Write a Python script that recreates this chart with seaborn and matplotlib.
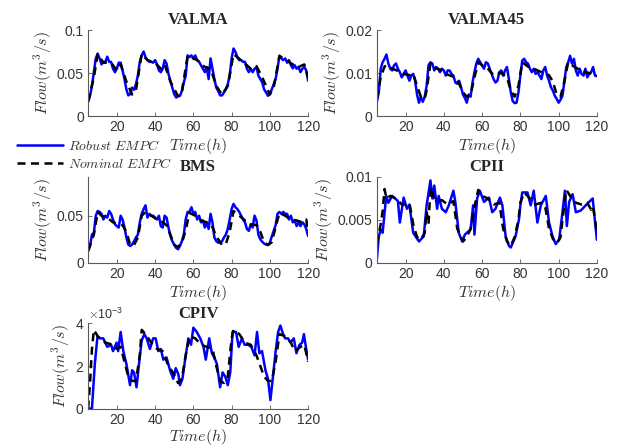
import numpy as np
import pandas as pd
import matplotlib
matplotlib.use("Agg")
import matplotlib.pyplot as plt
import matplotlib.ticker as mticker
import seaborn as sns

# ---- data (flow in m^3/s, time in hours) ----
# hourly robust series start at t = 5
valma_robust = [
    0.0165, 0.0235, 0.035, 0.051, 0.067, 0.0725, 0.067, 0.060, 0.063, 0.063,
    0.069, 0.063, 0.063, 0.055, 0.051, 0.055, 0.062, 0.062, 0.053, 0.043,
    0.031, 0.024, 0.0255, 0.033, 0.0305, 0.037, 0.047, 0.063, 0.0705, 0.075,
    0.0685, 0.065, 0.063, 0.063, 0.062, 0.065, 0.060, 0.053, 0.051, 0.055,
    0.065, 0.061, 0.049, 0.041, 0.033, 0.0255, 0.0215, 0.023, 0.0235, 0.029,
    0.039, 0.047, 0.0705, 0.0685, 0.0705, 0.067, 0.0705, 0.065, 0.063, 0.059,
    0.055, 0.051, 0.057, 0.043, 0.067, 0.055, 0.043, 0.033, 0.029, 0.024,
    0.024, 0.0275, 0.031, 0.037, 0.047, 0.067, 0.0785, 0.0745, 0.0685, 0.065,
    0.065, 0.063, 0.063, 0.055, 0.051, 0.055, 0.051, 0.055, 0.057, 0.047,
    0.043, 0.039, 0.031, 0.0275, 0.0235, 0.0255, 0.031, 0.037, 0.043, 0.055,
    0.070, 0.067, 0.065, 0.067, 0.062, 0.065, 0.059, 0.0555, 0.059, 0.055,
    0.057, 0.051, 0.055, 0.057, 0.053, 0.041,
]
valma_nom_t = [5, 8, 10, 13, 17, 20, 22, 25, 28, 30, 33, 36, 40, 43, 45, 48, 52, 54, 57, 62,
               66, 69, 72, 75, 78, 81, 86, 90, 93, 96, 100, 102, 105, 107, 112, 115, 118, 120]
valma_nom = [0.017, 0.045, 0.072, 0.062, 0.062, 0.053, 0.060, 0.040, 0.025, 0.030,
             0.072, 0.065, 0.062, 0.055, 0.060, 0.040, 0.023, 0.028, 0.070, 0.065,
             0.057, 0.055, 0.035, 0.025, 0.035, 0.072, 0.063, 0.055, 0.058, 0.045,
             0.025, 0.033, 0.070, 0.067, 0.060, 0.057, 0.060, 0.045]

valma45_robust = [
    0.0033, 0.0055, 0.011, 0.0125, 0.0133, 0.0143, 0.0122, 0.011, 0.0106, 0.0118,
    0.0122, 0.011, 0.0102, 0.009, 0.0098, 0.0106, 0.0094, 0.0082, 0.0094, 0.0098,
    0.0082, 0.005, 0.0031, 0.0045, 0.0033, 0.0045, 0.007, 0.0118, 0.0125, 0.0122,
    0.0106, 0.0114, 0.011, 0.0102, 0.011, 0.0106, 0.0094, 0.0106, 0.0106, 0.0098,
    0.0094, 0.0078, 0.0075, 0.0082, 0.0067, 0.005, 0.0042, 0.0031, 0.005, 0.0045,
    0.0078, 0.0102, 0.0122, 0.0133, 0.0125, 0.0118, 0.011, 0.0125, 0.0122, 0.011,
    0.0098, 0.0086, 0.0078, 0.0082, 0.0102, 0.0106, 0.0094, 0.0106, 0.0114, 0.0086,
    0.0055, 0.0035, 0.003, 0.0031, 0.0055, 0.0094, 0.0129, 0.0133, 0.0125, 0.0122,
    0.011, 0.0102, 0.011, 0.0098, 0.0102, 0.0094, 0.0086, 0.0106, 0.0114, 0.0094,
    0.0082, 0.0067, 0.0059, 0.0047, 0.004, 0.0031, 0.0038, 0.0047, 0.008, 0.0114,
    0.0125, 0.014, 0.0122, 0.0133, 0.0106, 0.0094, 0.011, 0.0098, 0.0094, 0.011,
    0.009, 0.0098, 0.0102, 0.0114, 0.0094, 0.0093,
]
valma45_nom_t = [5, 7, 9, 10, 13, 16, 19, 22, 24, 26, 28, 30, 31, 33, 35, 38, 41, 44, 46, 48,
                 50, 52, 54, 56, 58, 60, 63, 66, 68, 70, 73, 75, 77, 79, 81, 84, 88, 92, 95, 97,
                 99, 101, 103, 105, 108, 112, 116, 118, 120]
valma45_nom = [0.004, 0.009, 0.0115, 0.0118, 0.011, 0.0105, 0.0098, 0.0095, 0.0098, 0.007,
               0.0045, 0.004, 0.006, 0.0122, 0.0112, 0.0108, 0.0098, 0.0093, 0.009, 0.0075,
               0.0055, 0.0045, 0.005, 0.009, 0.0125, 0.0118, 0.011, 0.0095, 0.0098, 0.010,
               0.009, 0.006, 0.0045, 0.007, 0.0125, 0.0115, 0.0108, 0.010, 0.0095, 0.008,
               0.005, 0.0045, 0.008, 0.0125, 0.0115, 0.0105, 0.010, 0.0095, 0.0093]

bms_robust = [
    0.0125, 0.018, 0.030, 0.032, 0.050, 0.055, 0.054, 0.052, 0.046, 0.050,
    0.048, 0.055, 0.052, 0.046, 0.041, 0.039, 0.0375, 0.050, 0.046, 0.0375,
    0.027, 0.0195, 0.018, 0.0195, 0.023, 0.027, 0.030, 0.043, 0.052, 0.057,
    0.061, 0.048, 0.052, 0.050, 0.050, 0.048, 0.046, 0.050, 0.039, 0.0375,
    0.050, 0.048, 0.0375, 0.0285, 0.023, 0.0195, 0.016, 0.0145, 0.018, 0.023,
    0.030, 0.046, 0.054, 0.054, 0.059, 0.052, 0.054, 0.046, 0.050, 0.043,
    0.045, 0.0375, 0.043, 0.036, 0.052, 0.043, 0.027, 0.023, 0.0215, 0.0215,
    0.023, 0.027, 0.030, 0.036, 0.046, 0.057, 0.0625, 0.059, 0.057, 0.054,
    0.050, 0.046, 0.043, 0.036, 0.034, 0.041, 0.0375, 0.050, 0.045, 0.030,
    0.025, 0.0225, 0.0205, 0.0195, 0.019, 0.0215, 0.028, 0.034, 0.040, 0.052,
    0.054, 0.052, 0.054, 0.052, 0.052, 0.046, 0.050, 0.043, 0.045, 0.039,
    0.043, 0.039, 0.043, 0.041, 0.036, 0.0285,
]
bms_nom_t = [5, 8, 10, 12, 15, 18, 21, 23, 25, 27, 29, 31, 33, 35, 38, 41, 44, 46, 48, 50,
             52, 54, 56, 58, 61, 64, 67, 70, 72, 75, 77, 79, 81, 84, 87, 90, 93, 95, 97, 99,
             101, 103, 105, 108, 111, 114, 117, 119, 120]
bms_nom = [0.013, 0.030, 0.054, 0.050, 0.048, 0.043, 0.041, 0.040, 0.033, 0.019,
           0.019, 0.027, 0.050, 0.054, 0.050, 0.046, 0.043, 0.040, 0.030, 0.019,
           0.017, 0.021, 0.035, 0.053, 0.050, 0.045, 0.043, 0.038, 0.028, 0.019,
           0.020, 0.033, 0.055, 0.050, 0.045, 0.041, 0.040, 0.033, 0.022, 0.019,
           0.022, 0.038, 0.053, 0.050, 0.046, 0.045, 0.043, 0.046, 0.035]

cpii_rob_t = [5, 6, 7, 8, 9.9, 11, 13, 16, 17, 19, 20.7, 22, 24, 27, 29.5, 31, 33, 34, 35, 36.5,
              37.3, 39, 41, 42.6, 45, 46, 47.8, 49.6, 51, 54, 55.3, 56, 57.4, 58.8, 61, 63.6, 65.3, 67, 69.3, 70.6,
              72.3, 74, 75, 77.5, 79.3, 80, 81, 83.7, 85.4, 87, 88.9, 90.7, 93.3, 95, 96.8, 98.5, 100.3, 102, 103.3, 104.3,
              105.5, 107.3, 109, 111.6, 115, 117.8, 120]
cpii_robust = [0.0004, 0.0031, 0.0039, 0.0035, 0.0078, 0.0070, 0.0078, 0.0072, 0.0047, 0.0076,
               0.0063, 0.0068, 0.0035, 0.0025, 0.0031, 0.0067, 0.0096, 0.0075, 0.009, 0.0063,
               0.0078, 0.0063, 0.0059, 0.0067, 0.0084, 0.0071, 0.0035, 0.0025, 0.0033, 0.0039,
               0.0067, 0.0033, 0.0075, 0.0084, 0.0071, 0.0076, 0.0059, 0.0063, 0.0076, 0.0067,
               0.0031, 0.002, 0.0018, 0.0031, 0.0051, 0.0067, 0.0082, 0.0082, 0.0067, 0.0084,
               0.0047, 0.0067, 0.0078, 0.0047, 0.0031, 0.0022, 0.0027, 0.0059, 0.0084, 0.0043,
               0.0071, 0.008, 0.0059, 0.0061, 0.0069, 0.0075, 0.0027]
cpii_nom_t = [5, 7, 8, 9, 10, 12, 15, 18, 20, 22, 24, 26, 28, 30, 31, 32, 33, 35, 37, 39,
              42, 45, 47, 50, 52, 54, 56, 58, 60, 63, 66, 69, 71, 73, 75, 77, 79, 80, 82, 85,
              88, 91, 93, 95, 97, 99, 101, 102, 104, 106, 109, 112, 115, 117, 118, 120]
cpii_nom = [0.0022, 0.0045, 0.006, 0.0086, 0.0075, 0.0078, 0.0075, 0.0068, 0.0068, 0.0070,
            0.0045, 0.0030, 0.0027, 0.0035, 0.006, 0.0045, 0.0088, 0.0075, 0.0072, 0.0073,
            0.0068, 0.0072, 0.004, 0.0025, 0.003, 0.004, 0.0065, 0.0085, 0.0078, 0.0075,
            0.0068, 0.007, 0.004, 0.0025, 0.002, 0.003, 0.005, 0.007, 0.0082, 0.0075,
            0.0068, 0.0070, 0.0065, 0.004, 0.0028, 0.0023, 0.003, 0.005, 0.0085, 0.0078,
            0.0070, 0.0068, 0.0070, 0.0062, 0.0066, 0.0035]

cpiv_rob_t = [5, 7, 8.5, 9.9, 11, 12.9, 15, 17, 18, 19.9, 20.7, 22, 23.4, 25, 26.9, 28, 29, 30.3, 31.6, 33,
              34.4, 35.6, 37.3, 39, 40.3, 41.7, 43, 44.3, 46, 47.8, 49.5, 50.8, 52.2, 53, 54.3, 55.7, 57.4, 58.8, 60, 61.8,
              63.6, 65.3, 66.5, 68.3, 69.7, 71, 72.3, 74, 75.3, 76.7, 78, 79.3, 80.5, 82.3, 83.7, 85.4, 86.8, 88.6, 90.3, 92,
              93.3, 94.5, 95.9, 97.7, 99, 100.3, 101.5, 102.9, 104.3, 105.5, 106.9, 108, 109.5, 110.8, 112.5, 113.9, 115.5, 116.9, 117.8, 119,
              120]
cpiv_robust = [0.0, 0.0, 0.0021, 0.0034, 0.0033, 0.0033, 0.0029, 0.0030, 0.0027, 0.0031,
               0.0027, 0.0036, 0.0027, 0.0021, 0.0011, 0.0018, 0.0017, 0.0010, 0.0021, 0.0032,
               0.0035, 0.0033, 0.0028, 0.0033, 0.0033, 0.0027, 0.0028, 0.0023, 0.0024, 0.0018,
               0.0014, 0.0019, 0.0016, 0.0011, 0.0014, 0.0023, 0.0033, 0.0030, 0.0038, 0.0036,
               0.0033, 0.0029, 0.0023, 0.0033, 0.0026, 0.0024, 0.0021, 0.0010, 0.0017, 0.0015,
               0.0011, 0.0017, 0.0036, 0.0036, 0.0029, 0.0033, 0.0030, 0.0030, 0.0029, 0.0025,
               0.0036, 0.0026, 0.0027, 0.0018, 0.0014, 0.0004, 0.0014, 0.0026, 0.0036, 0.0039,
               0.0035, 0.0033, 0.0033, 0.0031, 0.0033, 0.0026, 0.0030, 0.0031, 0.0035, 0.0028,
               0.0023]
cpiv_nom_t = [5, 6, 7, 8, 10, 14, 18, 20, 22, 24, 26, 28, 30, 32, 33, 35, 38, 41, 44, 47,
              50, 52, 54, 56, 58, 61, 64, 67, 70, 72, 74, 76, 78, 80, 81, 84, 87, 90, 93, 95,
              97, 99, 101, 103, 105, 108, 111, 113, 116, 118, 120]
cpiv_nom = [0.0, 0.0012, 0.0028, 0.0037, 0.0034, 0.0031, 0.0030, 0.0028, 0.0029, 0.0022,
            0.0015, 0.0013, 0.0013, 0.0025, 0.0037, 0.0035, 0.0031, 0.0028, 0.0027, 0.0020,
            0.0016, 0.0012, 0.0014, 0.0025, 0.0034, 0.0033, 0.0030, 0.0029, 0.0028, 0.0020,
            0.0013, 0.0012, 0.0015, 0.0033, 0.0037, 0.0035, 0.0031, 0.0030, 0.0025, 0.0020,
            0.0015, 0.0013, 0.0013, 0.0022, 0.0035, 0.0034, 0.0031, 0.0027, 0.0029, 0.0030,
            0.0022]

titles = ["VALMA", "VALMA45", "BMS", "CPII", "CPIV"]
x_ticks = [20, 40, 60, 80, 100, 120]


def hourly(vals):
    return np.arange(5, 5 + len(vals))


panels = [
    ("VALMA", hourly(valma_robust), valma_robust, valma_nom_t, valma_nom, 0.1, [0, 0.05, 0.1]),
    ("VALMA45", hourly(valma45_robust), valma45_robust, valma45_nom_t, valma45_nom, 0.02, [0, 0.01, 0.02]),
    ("BMS", hourly(bms_robust), bms_robust, bms_nom_t, bms_nom, 0.091, [0, 0.05]),
    ("CPII", cpii_rob_t, cpii_robust, cpii_nom_t, cpii_nom, 0.01, [0, 0.005, 0.01]),
    ("CPIV", cpiv_rob_t, cpiv_robust, cpiv_nom_t, cpiv_nom, 0.004, [0, 0.002, 0.004]),
]

# axes rectangles in figure fraction (left, bottom, width, height)
rects = {
    "VALMA": [0.141, 0.741, 0.352, 0.192],
    "VALMA45": [0.603, 0.741, 0.352, 0.192],
    "BMS": [0.141, 0.413, 0.352, 0.192],
    "CPII": [0.603, 0.413, 0.352, 0.192],
    "CPIV": [0.141, 0.088, 0.352, 0.190],
}

sns.set_style("ticks")
plt.rcParams["font.family"] = ["Liberation Sans", "DejaVu Sans"]
plt.rcParams["mathtext.fontset"] = "cm"

fig = plt.figure(figsize=(6.25, 4.48), dpi=100)
axis_col = "0.35"

handles = None
for name, rt, rv, nt, nv, ytop, yticks in panels:
    ax = fig.add_axes(rects[name])
    df_r = pd.DataFrame({"t": rt, "flow": rv})
    df_n = pd.DataFrame({"t": nt, "flow": nv})
    sns.lineplot(data=df_r, x="t", y="flow", ax=ax, color="#0000ff", lw=1.8, legend=False)
    sns.lineplot(data=df_n, x="t", y="flow", ax=ax, color="black", lw=1.8, legend=False)
    ax.lines[1].set_linestyle((0, (3.2, 2.2)))
    if handles is None:
        handles = ax.lines[:2]

    ax.set_xlim(5, 120)
    ax.set_ylim(0, ytop)
    ax.set_xticks(x_ticks)
    ax.set_yticks(yticks)
    if name == "CPIV":
        fmt = mticker.ScalarFormatter(useMathText=True)
        fmt.set_powerlimits((-2, 2))
        ax.yaxis.set_major_formatter(fmt)
        ax.yaxis.get_offset_text().set_fontsize(9)
        ax.yaxis.get_offset_text().set_color("0.25")
    else:
        ax.yaxis.set_major_formatter(mticker.FuncFormatter(lambda v, p: "%g" % v))

    sns.despine(ax=ax)
    for s in ["left", "bottom"]:
        ax.spines[s].set_color(axis_col)
        ax.spines[s].set_linewidth(0.8)
    ax.tick_params(direction="in", length=3, width=0.6, color=axis_col,
                   labelsize=10, labelcolor="0.2", pad=3)

    ax.set_title(name, fontsize=12, fontweight="bold",
                 fontfamily="Liberation Serif", pad=4)
    ax.set_xlabel(r"$Time(h)$", fontsize=11.5, color="0.2",
                  labelpad=0 if name == "CPIV" else 1.5)
    ax.set_ylabel(r"$Flow(m^3/s)$", fontsize=11.5, color="0.2", labelpad=2)

leg = fig.legend(handles, [r"$Robust\ EMPC$", r"$Nominal\ EMPC$"],
                 loc="upper left", bbox_to_anchor=(0.016, 0.705),
                 frameon=False, fontsize=10, handlelength=3.3,
                 handletextpad=0.4, borderpad=0, labelspacing=0.25)
for txt in leg.get_texts():
    txt.set_color("0.2")

fig.savefig("out.png", dpi=100)
